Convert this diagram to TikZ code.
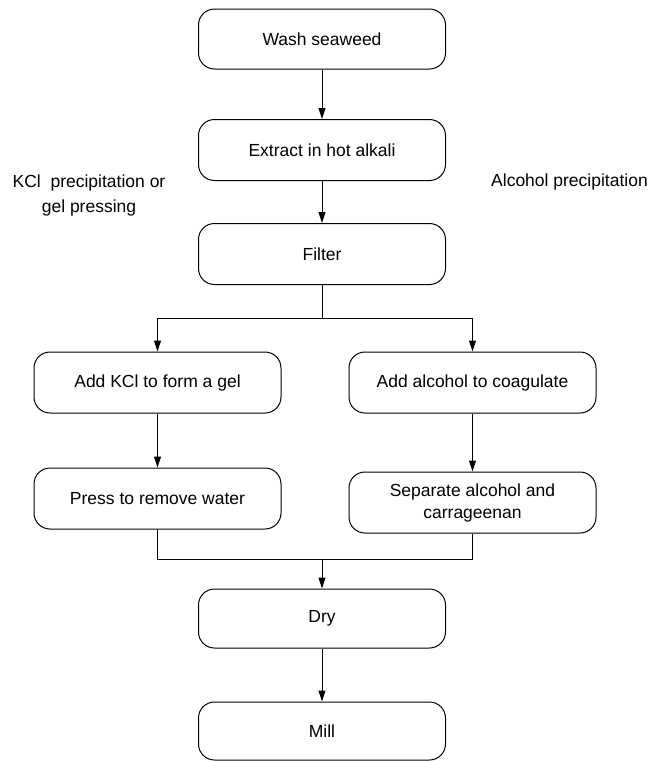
\documentclass[tikz,border=0pt]{standalone}
\usepackage{fontspec}
\setmainfont{Liberation Sans}
\usetikzlibrary{arrows.meta}
\begin{document}
\begin{tikzpicture}[x=1pt,y=-1pt,
  stepbox/.style={draw=black, line width=1pt, rounded corners=16pt,
    minimum width=247pt, minimum height=60pt, inner sep=0pt, align=center,
    font=\fontsize{17.5}{22}\selectfont},
  lbl/.style={align=center, inner sep=0pt, font=\fontsize{17.5}{25}\selectfont},
  link/.style={draw=black, line width=1pt},
  arr/.style={link, -{Triangle[length=11pt,width=7pt]}}]
\useasboundingbox (0,0) rectangle (653,761);
\node[stepbox] (wash) at (322,39) {Wash seaweed};
\node[stepbox, minimum height=61pt] (extract) at (322,150) {Extract in hot alkali};
\node[stepbox, minimum height=61pt] (filter) at (322,254) {Filter};
\node[stepbox, minimum height=61pt] (kcl) at (157.5,382.5) {Add KCl to form a gel};
\node[stepbox, minimum height=61pt] (alc) at (472.5,382.5) {Add alcohol to coagulate};
\node[stepbox, minimum height=61pt] (press) at (157.5,498.5) {Press to remove water};
\node[stepbox, minimum height=61pt] (sep) at (472.5,502.5) {Separate alcohol and\\carrageenan};
\node[stepbox, minimum height=59pt] (dry) at (322,618.5) {Dry};
\node[stepbox, minimum height=58pt] (mill) at (322,731) {Mill};
\node[lbl] (kcllbl) at (89,195) {KCl\ \ precipitation or\\gel pressing};
\node[lbl] (alclbl) at (569.5,182) {Alcohol precipitation};
\coordinate (branch) at (322,318);
\coordinate (merge) at (322,559);
\draw[arr] (wash.south) -- (extract.north);
\draw[arr] (extract.south) -- (filter.north);
\draw[link] (filter.south) -- (branch);
\draw[arr] (branch) -| (kcl.north);
\draw[arr] (branch) -| (alc.north);
\draw[arr] (kcl.south) -- (press.north);
\draw[arr] (alc.south) -- (sep.north);
\draw[link] (press.south) |- (merge);
\draw[link] (sep.south) |- (merge);
\draw[arr] (merge) -- (dry.north);
\draw[arr] (dry.south) -- (mill.north);
\end{tikzpicture}
\end{document}
